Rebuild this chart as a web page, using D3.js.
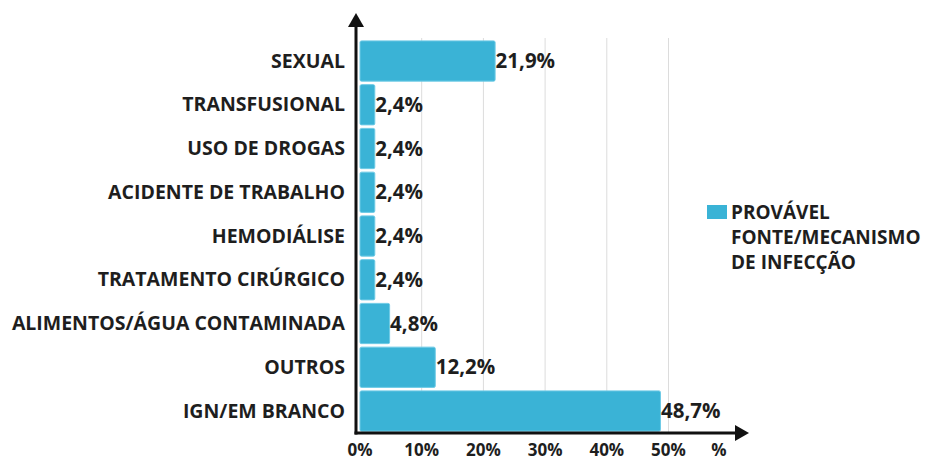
<!DOCTYPE html>
<html>
<head>
<meta charset="utf-8">
<script src="https://cdn.jsdelivr.net/npm/d3@7"></script>
<style>
  html, body { margin: 0; padding: 0; background: #fff; }
  svg { display: block; }
  text { font-family: "Open Sans", "Noto Sans", sans-serif; font-weight: 700; fill: #1e1e1e; }
</style>
</head>
<body>
<svg id="chart" width="925" height="461"></svg>
<script>
// Provável fonte/mecanismo de infecção (%)
const categories = [
  "SEXUAL", "TRANSFUSIONAL", "USO DE DROGAS", "ACIDENTE DE TRABALHO",
  "HEMODIÁLISE", "TRATAMENTO CIRÚRGICO", "ALIMENTOS/ÁGUA CONTAMINADA",
  "OUTROS", "IGN/EM BRANCO"
];
const values = [21.9, 2.4, 2.4, 2.4, 2.4, 2.4, 4.8, 12.2, 48.7];
const valueLabels = ["21,9%", "2,4%", "2,4%", "2,4%", "2,4%", "2,4%", "4,8%", "12,2%", "48,7%"];
const xTicks = [0, 10, 20, 30, 40, 50];
const xTickLabels = ["0%", "10%", "20%", "30%", "40%", "50%"];
const legendLines = ["PROVÁVEL", "FONTE/MECANISMO", "DE INFECÇÃO"];

const svg = d3.select("#chart");
const barColor = "#3ab3d6";

const x0 = 360;
const x = d3.scaleLinear().domain([0, 10]).range([x0, x0 + 61.7]);
const y = d3.scaleBand().domain(categories).range([40, 432]).paddingInner(0.08).paddingOuter(0.02);

// vertical gridlines
svg.append("g").selectAll("line")
  .data(xTicks.filter(d => d > 0))
  .join("line")
  .attr("x1", d => x(d)).attr("x2", d => x(d))
  .attr("y1", 38).attr("y2", 432)
  .attr("stroke", "#dcdcdc").attr("stroke-width", 1);

// bars
svg.append("g").selectAll("rect")
  .data(values)
  .join("rect")
  .attr("x", x(0))
  .attr("y", (d, i) => y(categories[i]))
  .attr("width", d => x(d) - x(0))
  .attr("height", y.bandwidth())
  .attr("rx", 1.5)
  .attr("fill", barColor)
  .attr("stroke", "#6fcbe6")
  .attr("stroke-width", 1);

// value labels
svg.append("g").selectAll("text")
  .data(values)
  .join("text")
  .attr("x", d => x(d) + 0.5)
  .attr("y", (d, i) => y(categories[i]) + y.bandwidth() / 2 + 7)
  .attr("font-size", 20.5)
  .text((d, i) => valueLabels[i]);

// category labels
svg.append("g").selectAll("text")
  .data(categories)
  .join("text")
  .attr("x", 345)
  .attr("y", d => y(d) + y.bandwidth() / 2 + 6.5)
  .attr("text-anchor", "end")
  .attr("font-size", 19.5)
  .text(d => d);

// axes with arrowheads
const axisG = svg.append("g");
axisG.append("line")
  .attr("x1", 356).attr("x2", 356).attr("y1", 26).attr("y2", 434.5)
  .attr("stroke", "#111").attr("stroke-width", 3);
axisG.append("path")
  .attr("d", "M356,13 L364,27 L348,27 Z")
  .attr("fill", "#111");
axisG.append("line")
  .attr("x1", 354.5).attr("x2", 736).attr("y1", 433).attr("y2", 433)
  .attr("stroke", "#111").attr("stroke-width", 3);
axisG.append("path")
  .attr("d", "M749,433 L735,425 L735,441 Z")
  .attr("fill", "#111");

// x tick labels
svg.append("g").selectAll("text")
  .data(xTicks)
  .join("text")
  .attr("x", d => x(d))
  .attr("y", 456)
  .attr("text-anchor", "middle")
  .attr("font-size", 17)
  .attr("fill", "#333")
  .text((d, i) => xTickLabels[i]);
svg.append("text")
  .attr("x", 719).attr("y", 456)
  .attr("text-anchor", "middle")
  .attr("font-size", 17)
  .text("%");

// legend
const legend = svg.append("g");
legend.append("rect")
  .attr("x", 707).attr("y", 205).attr("width", 20).attr("height", 14)
  .attr("fill", barColor);
legend.selectAll("text")
  .data(legendLines)
  .join("text")
  .attr("x", 731)
  .attr("y", (d, i) => 219 + i * 25)
  .attr("font-size", 19)
  .text(d => d);
</script>
</body>
</html>
